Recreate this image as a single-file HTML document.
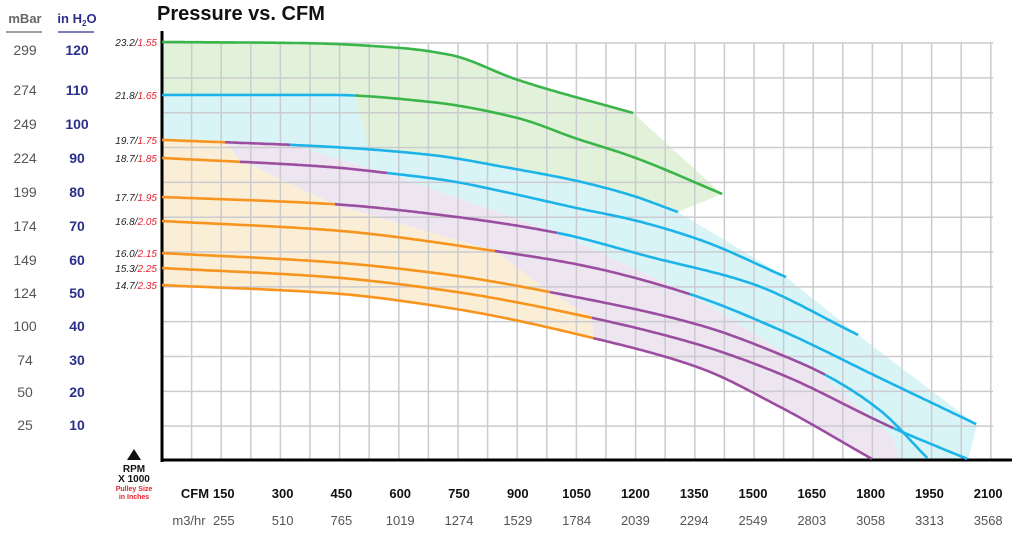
<!DOCTYPE html>
<html><head><meta charset="utf-8"><style>
html,body{margin:0;padding:0;background:#fff;}
svg{display:block;font-family:"Liberation Sans",sans-serif;}
</style></head><body>
<svg id="c" width="1019" height="541" viewBox="0 0 1019 541">
<g id="fills"></g>
<g id="grid"></g>
<g id="curves"></g>
<g id="labels"></g>
<text x="157" y="20" font-size="20" font-weight="bold" fill="#111">Pressure vs. CFM</text>
<text x="25" y="23" font-size="13" font-weight="bold" fill="#666" text-anchor="middle">mBar</text>
<line x1="6" y1="32" x2="42" y2="32" stroke="#666" stroke-width="1.2"/>
<text x="77" y="23" font-size="13" font-weight="bold" fill="#2b2f8a" text-anchor="middle">in H<tspan font-size="8" dy="3">2</tspan><tspan dy="-3">O</tspan></text>
<line x1="58" y1="32" x2="94" y2="32" stroke="#2b2f8a" stroke-width="1.2"/>
<polygon points="127,460 134,449 141,460" fill="#111"/>
<text x="134" y="472" font-size="10" font-weight="bold" text-anchor="middle" fill="#111">RPM</text>
<text x="134" y="482" font-size="10" font-weight="bold" text-anchor="middle" fill="#111">X 1000</text>
<text x="134" y="491" font-size="7" font-weight="bold" text-anchor="middle" fill="#e5202e">Pulley Size</text>
<text x="134" y="499" font-size="7" font-weight="bold" text-anchor="middle" fill="#e5202e">in Inches</text>
<text x="195" y="498" font-size="13" font-weight="bold" text-anchor="middle" fill="#111">CFM</text>
<text x="189" y="525" font-size="13" text-anchor="middle" fill="#555">m3/hr</text>
</svg>
<script>
const inH2OTicks=[120,110,100,90,80,70,60,50,40,30,20,10];
const mBarTicks=[299,274,249,224,199,174,149,124,100,74,50,25];
const tickLabelY=[50,90,124,158,192,226,260,293,326,360,392,425];
const cfmTicks=[150,300,450,600,750,900,1050,1200,1350,1500,1650,1800,1950,2100];
const m3hrTicks=[255,510,765,1019,1274,1529,1784,2039,2294,2549,2803,3058,3313,3568];
const rpmLabels=["23.2","21.8","19.7","18.7","17.7","16.8","16.0","15.3","14.7"];
const pulleyLabels=["1.55","1.65","1.75","1.85","1.95","2.05","2.15","2.25","2.35"];
const c1cfm=[0,352,607,735,908,1202], c1p=[120.3,120,118.6,116.6,109.4,99.9];
const c2cfm=[0,429,684,906,1059,1194,1429], c2p=[105.1,105.1,103.1,98.5,92.5,87.6,76.7];
const c3cfm=[0,429,684,888,1059,1194,1316], c3p=[92.2,90.2,87.9,84.1,80.4,76.4,71.5];
const c4cfm=[0,429,574,735,888,1059,1202,1372,1592], c4p=[87.0,84.4,82.7,80.4,76.9,72.6,69.2,63.5,52.8];
const c5cfm=[0,429,735,1008,1245,1500,1776], c5p=[75.8,73.8,70.3,65.5,58.6,51.1,36.2];
const c6cfm=[0,429,849,1066,1347,1577,1832,2077], c6p=[68.9,66.3,60.3,56.3,47.9,37.6,23.8,10.6];
const c7cfm=[0,429,735,990,1372,1577,1691,1832,1952], c7p=[59.7,57.1,53.4,48.5,39.0,30.6,24.8,14.5,0.9];
const c8cfm=[0,429,735,1097,1372,1577,1865,2054], c8p=[55.4,52.8,48.8,41.1,33.3,25.0,9.5,0.6];
const c9cfm=[0,429,735,1100,1372,1577,1811], c9p=[50.5,48.2,43.9,35.3,26.7,15.5,0.6];
const c1breaks=[0,0,0], c2breaks=[0,0,492], c3breaks=[161,327,9999], c4breaks=[199,574,9999];
const c5breaks=[441,1008,9999], c6breaks=[849,1347,9999], c7breaks=[990,1691,9999];
const c8breaks=[1097,1865,9999], c9breaks=[1100,9999,9999];

const NS="http://www.w3.org/2000/svg";
const X0=162,XS=0.392,Y0=461,YS=3.483;
const xs=c=>X0+c*XS, ys=p=>Y0-p*YS;
function mk(tag,attrs,parent){const e=document.createElementNS(NS,tag);for(const k in attrs)e.setAttribute(k,attrs[k]);parent.appendChild(e);return e;}
function tangents(cf,pp){
  const n=cf.length,d=[],m=[];
  for(let i=0;i<n-1;i++)d.push((pp[i+1]-pp[i])/(cf[i+1]-cf[i]));
  m[0]=d[0];m[n-1]=d[n-2];
  for(let i=1;i<n-1;i++){if(d[i-1]*d[i]<=0)m[i]=0;else{const w1=2*(cf[i+1]-cf[i])+(cf[i]-cf[i-1]),w2=(cf[i+1]-cf[i])+2*(cf[i]-cf[i-1]);m[i]=(w1+w2)/(w1/d[i-1]+w2/d[i]);}}
  return m;
}
function interp(cf,pp,c){
  const n=cf.length,m=tangents(cf,pp);let i=0;while(i<n-2&&c>cf[i+1])i++;
  const h=cf[i+1]-cf[i],t=Math.max(0,Math.min(1,(c-cf[i])/h));
  const t2=t*t,t3=t2*t;
  return (2*t3-3*t2+1)*pp[i]+(t3-2*t2+t)*h*m[i]+(-2*t3+3*t2)*pp[i+1]+(t3-t2)*h*m[i+1];
}
function samplePts(cf,pp,a,b){const r=[];const st=(b-a)/Math.max(2,Math.ceil((b-a)/6));for(let c=a;c<=b+0.01;c+=st)r.push([xs(c),ys(interp(cf,pp,c))]);return r;}
const fills=document.getElementById('fills'),grid=document.getElementById('grid'),curvesG=document.getElementById('curves'),labels=document.getElementById('labels');
const cx=px=>(px-X0)/XS;
function poly(pts,fill,name){const e=mk('polygon',{points:pts.map(p=>p[0].toFixed(1)+','+p[1].toFixed(1)).join(' '),fill:fill},fills);

}
poly([].concat(samplePts(c1cfm,c1p,0,1202),[[722,194]],samplePts(c3cfm,c3p,cx(368),1316).reverse(),[[355,95],[162,95]]),'#e2f2da','green-region');
poly([].concat([[162,95],[355,95],[368,148]],samplePts(c3cfm,c3p,cx(368),1316),[[786,277],[858,335],[977,425],[968,460],[900,460],[893,437],[825,378],[690,294],[557,233],[387,173]],samplePts(c3cfm,c3p,0,327).reverse()),'#d9f4f7','cyan-region');
poly([].concat(samplePts(c3cfm,c3p,161,327),[[387,173],[557,233],[690,294],[825,378],[893,437],[900,460],[872,460]],samplePts(c9cfm,c9p,cx(593),1811).reverse(),[[592,318],[550,292],[495,251],[335,205],[240,160]]),'#ede5ef','purple-region');
poly([].concat(samplePts(c3cfm,c3p,0,161),[[240,160],[335,205],[495,251],[550,292],[592,318],[593,338]],samplePts(c9cfm,c9p,0,cx(593)).reverse()),'#fbeed6','orange-region');
for(let i=1;i<=28;i++){const x=X0+i*29.6;const l=mk('line',{x1:x,y1:43,x2:x,y2:460,stroke:'#cbcbd0','stroke-width':1.5},grid);

}
for(let k=1;k<=12;k++){const y=Y0-k*34.83;const l=mk('line',{x1:X0,y1:y,x2:993,y2:y,stroke:'#cbcbd0','stroke-width':1.5},grid);

}
const ya=mk('line',{x1:162,y1:31,x2:162,y2:462,stroke:'#000','stroke-width':3},grid);


const xa=mk('line',{x1:161,y1:460,x2:1012,y2:460,stroke:'#000','stroke-width':3},grid);


const COLS=['#f7941d','#9b4ea0','#1cb4e8','#3ab54a'];
const curves=[[c1cfm,c1p,c1breaks],[c2cfm,c2p,c2breaks],[c3cfm,c3p,c3breaks],[c4cfm,c4p,c4breaks],[c5cfm,c5p,c5breaks],[c6cfm,c6p,c6breaks],[c7cfm,c7p,c7breaks],[c8cfm,c8p,c8breaks],[c9cfm,c9p,c9breaks]];
curves.forEach((cv,ci)=>{
  const [cf,pp,br]=cv;const end=cf[cf.length-1];
  const bounds=[0,br[0],br[1],br[2],end].map(v=>Math.min(Math.max(v,0),end));
  for(let s=0;s<4;s++){const a=bounds[s],b=Math.max(bounds[s],bounds[s+1]);if(b-a<1)continue;
    const pts=samplePts(cf,pp,a,b);
    const e=mk('path',{d:'M'+pts.map(p=>p[0].toFixed(1)+' '+p[1].toFixed(1)).join(' L'),fill:'none',stroke:COLS[s],'stroke-width':2.6,'stroke-linecap':'butt'},curvesG);
    
    }
  const t=mk('text',{x:157,y:(ys(pp[0])+4).toFixed(1),'font-size':10,'font-style':'italic','text-anchor':'end',fill:'#222'},labels);
  
  
  t.innerHTML=rpmLabels[ci]+'/<tspan fill="#e5202e">'+pulleyLabels[ci]+'</tspan>';
});
inH2OTicks.forEach((v,i)=>{
  const a=mk('text',{x:25,y:tickLabelY[i]+5,'font-size':14,'text-anchor':'middle',fill:'#555'},labels);a.textContent=mBarTicks[i];
  
  
  const b=mk('text',{x:77,y:tickLabelY[i]+5,'font-size':14,'font-weight':'bold','text-anchor':'middle',fill:'#2b2f8a'},labels);b.textContent=v;
  
  
});
cfmTicks.forEach((v,i)=>{
  const x=xs(v)+3;
  const a=mk('text',{x:x,y:498,'font-size':13,'font-weight':'bold','text-anchor':'middle',fill:'#111'},labels);a.textContent=v;
  
  
  const b=mk('text',{x:x,y:525,'font-size':13,'text-anchor':'middle',fill:'#555'},labels);b.textContent=m3hrTicks[i];
  
  
});
</script>
</body></html>
